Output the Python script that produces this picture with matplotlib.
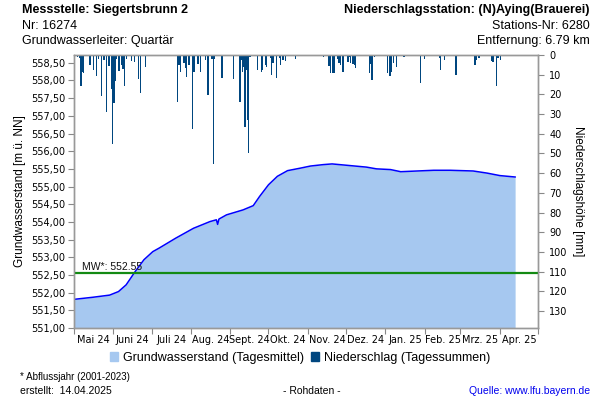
import datetime as dt

import matplotlib
matplotlib.use("Agg")
import matplotlib.pyplot as plt
import matplotlib.dates as mdates
from matplotlib.patches import Patch
from matplotlib.ticker import FixedLocator, NullFormatter

# Grundwasserstand
gw_dates = [
    "2024-05-01", "2024-05-16", "2024-05-29", "2024-06-05", "2024-06-11",
    "2024-06-18", "2024-06-25", "2024-07-02", "2024-07-07", "2024-07-20",
    "2024-08-03", "2024-08-16", "2024-08-21", "2024-08-22", "2024-08-23",
    "2024-08-29", "2024-09-11", "2024-09-19", "2024-09-24", "2024-10-01",
    "2024-10-08", "2024-10-16", "2024-10-26", "2024-11-03", "2024-11-13",
    "2024-11-20", "2024-12-02", "2024-12-17", "2024-12-25", "2025-01-05",
    "2025-01-13", "2025-01-26", "2025-02-08", "2025-02-21", "2025-03-11",
    "2025-03-22", "2025-04-01", "2025-04-13",
]
gw_values = [
    551.81, 551.87, 551.93, 552.03, 552.22,
    552.59, 552.93, 553.16, 553.26, 553.54,
    553.82, 554.01, 554.06, 553.93, 554.08,
    554.20, 554.34, 554.46, 554.72, 555.05,
    555.29, 555.45, 555.52, 555.58, 555.62,
    555.64, 555.60, 555.55, 555.50, 555.48,
    555.42, 555.44, 555.46, 555.46, 555.44,
    555.38, 555.31, 555.27,
]

# Niederschlag (Tagessummen, mm)
ns_dates = [
    "2024-05-03", "2024-05-05", "2024-05-06", "2024-05-07", "2024-05-08",
    "2024-05-13", "2024-05-16", "2024-05-18", "2024-05-20", "2024-05-22",
    "2024-05-24", "2024-05-26", "2024-05-28", "2024-05-30", "2024-05-31",
    "2024-06-01", "2024-06-02", "2024-06-03", "2024-06-05", "2024-06-07",
    "2024-06-08", "2024-06-09", "2024-06-11", "2024-06-15", "2024-06-17",
    "2024-06-20", "2024-06-22", "2024-06-26", "2024-07-19", "2024-07-21",
    "2024-07-22", "2024-07-23", "2024-07-26", "2024-07-27", "2024-07-28",
    "2024-07-30", "2024-08-02", "2024-08-03", "2024-08-06", "2024-08-08",
    "2024-08-12", "2024-08-14", "2024-08-17", "2024-08-18", "2024-08-19",
    "2024-08-25", "2024-09-03", "2024-09-08", "2024-09-09", "2024-09-10",
    "2024-09-11", "2024-09-12", "2024-09-13", "2024-09-14", "2024-09-15",
    "2024-09-16", "2024-09-22", "2024-09-25", "2024-09-26", "2024-09-28",
    "2024-09-29", "2024-10-02", "2024-10-03", "2024-10-04", "2024-10-07",
    "2024-10-09", "2024-10-10", "2024-10-12", "2024-10-14", "2024-10-22",
    "2024-11-13", "2024-11-17", "2024-11-18", "2024-11-20", "2024-11-21",
    "2024-11-24", "2024-11-25", "2024-11-26", "2024-11-28", "2024-12-02",
    "2024-12-03", "2024-12-04", "2024-12-06", "2024-12-07", "2024-12-08",
    "2024-12-19", "2024-12-20", "2024-12-21", "2024-12-23", "2025-01-02",
    "2025-01-04", "2025-01-05", "2025-01-07", "2025-01-09", "2025-01-15",
    "2025-01-28", "2025-01-31", "2025-02-12", "2025-02-13", "2025-02-16",
    "2025-02-25", "2025-02-27", "2025-03-12", "2025-03-13", "2025-03-15",
    "2025-03-25", "2025-03-26", "2025-03-29", "2025-03-30", "2025-04-01",
]
ns_values = [
    0.9, 1.7, 15.7, 8.5, 9.3,
    5.0, 7.6, 10.7, 2.0, 21.0,
    2.5, 28.8, 5.5, 17.4, 45.3,
    24.5, 13.0, 2.0, 8.0, 5.0,
    7.0, 15.7, 2.0, 3.0, 3.4,
    12.4, 19.5, 6.3, 0.3, 23.7,
    5.0, 8.8, 4.0, 6.8, 11.3,
    5.0, 37.7, 8.5, 4.6, 8.5,
    2.3, 20.3, 1.8, 55.5, 2.0,
    11.8, 12.3, 23.7, 2.5, 8.5,
    6.0, 36.7, 7.5, 33.0, 49.6,
    1.0, 7.5, 8.5, 7.5, 5.0,
    6.0, 1.5, 10.2, 4.0, 11.8,
    1.5, 5.0, 2.5, 3.0, 2.2,
    0.9, 5.5, 8.9, 9.3, 9.3,
    2.2, 4.0, 5.3, 8.5, 3.4,
    0.9, 4.0, 4.8, 5.3, 6.5,
    9.0, 4.8, 12.7, 0.9, 9.0,
    10.7, 8.5, 4.0, 5.9, 1.2,
    14.4, 2.2, 1.7, 7.5, 2.5,
    10.2, 0.5, 5.3, 2.5, 1.7,
    2.9, 3.4, 15.7, 1.7, 2.5,
]

month_labels = ["Mai 24", "Juni 24", "Juli 24", "Aug. 24", "Sept. 24", "Okt. 24",
                "Nov. 24", "Dez. 24", "Jan. 25", "Feb. 25", "Mrz. 25", "Apr. 25"]
mw_value = 552.55

plt.rcParams["font.family"] = ["Liberation Sans", "DejaVu Sans"]

gw_x = [dt.datetime.strptime(d, "%Y-%m-%d") for d in gw_dates]
ns_x = [dt.datetime.strptime(d, "%Y-%m-%d") for d in ns_dates]

fig = plt.figure(figsize=(6, 4), dpi=100)
ax = fig.add_axes([74 / 600, 72 / 400, 464 / 600, 273 / 400])
ax2 = ax.twinx()

fill_col = "#A6C8F0"
ax.fill_between(gw_x, 551.0, gw_values, color=fill_col, lw=0, zorder=1)
ax.plot(gw_x, gw_values, color="#0000FF", lw=1.1, zorder=2)
ax.axhline(mw_value, color="#138A13", lw=1.6, zorder=3)
ax.text(dt.datetime(2024, 5, 7), mw_value + 0.04, f"MW*: {mw_value:.2f}",
        fontsize=7.5, va="bottom", ha="left", color="#111111")

ax2.bar(ns_x, ns_values, width=1.0, align="edge", color="#00467F", lw=0)

start = dt.datetime(2024, 5, 1)
end = dt.datetime(2025, 5, 1)
ax.set_xlim(start, end)
ax.set_ylim(551.0, 558.72)
ax2.set_ylim(138.6, 0)

month_starts = [dt.datetime(2024 + (4 + i) // 12, (4 + i) % 12 + 1, 1) for i in range(13)]
mids = [a + (b - a) / 2 for a, b in zip(month_starts[:-1], month_starts[1:])]
ax.xaxis.set_major_locator(FixedLocator(mdates.date2num(month_starts)))
ax.xaxis.set_major_formatter(NullFormatter())
ax.xaxis.set_minor_locator(FixedLocator(mdates.date2num(mids)))
ax.xaxis.set_minor_formatter(plt.FixedFormatter(month_labels))
ax.tick_params(axis="x", which="minor", length=0, labelsize=7, pad=5)
ax.tick_params(axis="x", which="major", length=4, color="#888888")
for lab in ax.xaxis.get_minorticklabels():
    lab.set_family("DejaVu Sans")

yt = [551.0 + 0.5 * i for i in range(16)]
ax.set_yticks(yt)
ax.set_yticklabels([f"{v:.2f}".replace(".", ",") for v in yt], family="DejaVu Sans")
ax.tick_params(axis="y", labelsize=7, length=4, color="#888888", pad=2)

rt = list(range(0, 140, 10))
ax2.set_yticks(rt)
ax2.set_yticklabels([str(v) for v in rt], family="DejaVu Sans")
ax2.tick_params(axis="y", labelsize=7, length=4, color="#888888", pad=4)

for a in (ax, ax2):
    for s in a.spines.values():
        s.set_color("#999999")
        s.set_linewidth(1.0)

ax.set_ylabel("Grundwasserstand [m ü. NN]", fontsize=8.5, labelpad=4)
ax2.set_ylabel("Niederschlagshöhe [mm]", fontsize=8.5, rotation=-90, labelpad=12)

# Kopfzeilen
fig.text(22 / 600, 1 - 10 / 400, "Messstelle: Siegertsbrunn 2", fontsize=9,
         fontweight="bold", va="center", ha="left")
fig.text(22 / 600, 1 - 26 / 400, "Nr: 16274", fontsize=9, va="center")
fig.text(22 / 600, 1 - 41 / 400, "Grundwasserleiter: Quartär", fontsize=9, va="center")
fig.text(590 / 600, 1 - 10 / 400, "Niederschlagsstation: (N)Aying(Brauerei)", fontsize=9,
         fontweight="bold", va="center", ha="right")
fig.text(590 / 600, 1 - 26 / 400, "Stations-Nr: 6280", fontsize=9, va="center", ha="right")
fig.text(590 / 600, 1 - 41 / 400, "Entfernung: 6.79 km", fontsize=9, va="center", ha="right")

handles = [Patch(color=fill_col, label="Grundwasserstand (Tagesmittel)"),
           Patch(color="#00467F", label="Niederschlag (Tagessummen)")]
fig.legend(handles=handles, loc="center", bbox_to_anchor=(0.5, 1 - 358 / 400), ncol=2,
           frameon=False, fontsize=9, handlelength=0.7, handleheight=0.7,
           handletextpad=0.4, columnspacing=0.5)

# Fusszeilen
fig.text(20 / 600, 1 - 377 / 400, "* Abflussjahr (2001-2023)", fontsize=7, va="center")
fig.text(20 / 600, 1 - 391 / 400, "erstellt:  14.04.2025", fontsize=7.5, va="center")
fig.text(312 / 600, 1 - 391 / 400, "- Rohdaten -", fontsize=7.5, va="center", ha="center")
fig.text(590 / 600, 1 - 391 / 400, "Quelle: www.lfu.bayern.de", fontsize=7.5,
         va="center", ha="right", color="#0000EE")

fig.savefig("out.png", dpi=100)
